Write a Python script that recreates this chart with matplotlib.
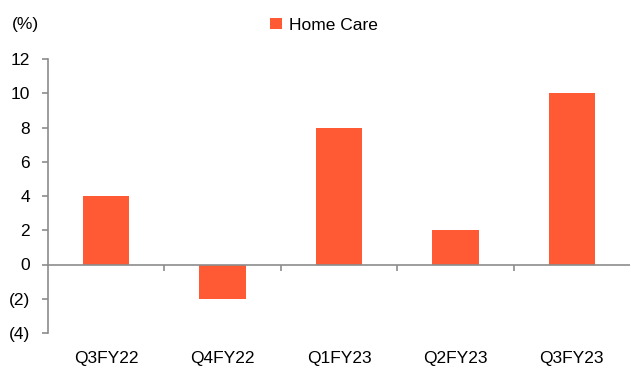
import matplotlib
matplotlib.use("Agg")
import matplotlib.pyplot as plt
from matplotlib.ticker import FixedLocator, FuncFormatter

plt.rcParams['font.family'] = ['Liberation Sans', 'DejaVu Sans']

quarters = ["Q3FY22", "Q4FY22", "Q1FY23", "Q2FY23", "Q3FY23"]
home_care = [4, -2, 8, 2, 10]
y_ticks = [-4, -2, 0, 2, 4, 6, 8, 10, 12]

bar_color = "#FF5A33"
axis_gray = "#8C8C8C"
fs = 12.5

fig = plt.figure(figsize=(6.3, 3.69), dpi=100)
ax = fig.add_axes([48 / 630, 1 - 333 / 369, 1 - 48 / 630, (333 - 59) / 369])

x = list(range(len(quarters)))
ax.bar(x, home_care, width=0.4, color=bar_color, label="Home Care", zorder=2)

ax.set_xlim(-0.5, len(quarters) - 0.5)
ax.set_ylim(-4, 12)

for side in ("top", "right"):
    ax.spines[side].set_visible(False)
ax.spines["left"].set_color(axis_gray)
ax.spines["left"].set_linewidth(1.2)
ax.spines["bottom"].set_position(("data", 0))
ax.spines["bottom"].set_color(axis_gray)
ax.spines["bottom"].set_linewidth(1.2)
ax.spines["bottom"].set_zorder(3)

ax.yaxis.set_major_locator(FixedLocator(y_ticks))
ax.yaxis.set_major_formatter(FuncFormatter(
    lambda v, _: f"({abs(int(v))})" if v < 0 else f"{int(v)}"))
ax.tick_params(axis="y", direction="out", length=4, width=1.2,
               color=axis_gray, pad=9, labelsize=fs, labelcolor="black")

ax.set_xticks(x)
ax.set_xticklabels(quarters)
ax.set_xticks([i + 0.5 for i in x[:-1]], minor=True)
ax.tick_params(axis="x", which="major", length=0, pad=62,
               labelsize=fs, labelcolor="black")
ax.tick_params(axis="x", which="minor", direction="out", length=4,
               width=1.2, color=axis_gray)

fig.text(12 / 630, 1 - 24 / 369, "(%)", fontsize=fs, va="center", ha="left")

ax.legend(loc="center", bbox_to_anchor=(324 / 630, 1 - 25 / 369),
          bbox_transform=fig.transFigure, frameon=False, fontsize=fs,
          handlelength=0.65, handleheight=0.65, handletextpad=0.4)

fig.savefig("out.png", dpi=100)
